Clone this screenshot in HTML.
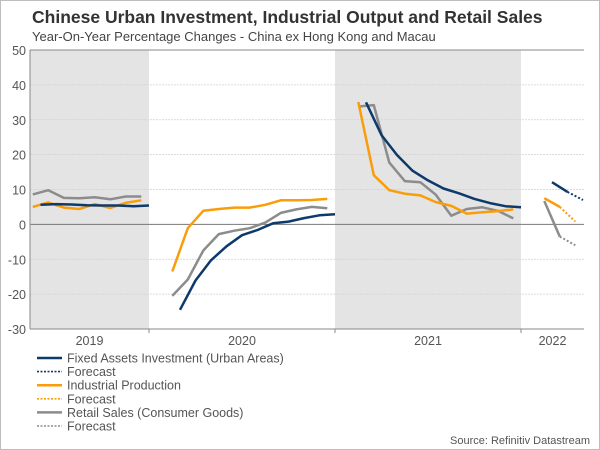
<!DOCTYPE html>
<html><head><meta charset="utf-8"><style>
body{margin:0;background:#fff;}
svg{display:block;font-family:"Liberation Sans",sans-serif;}
</style></head><body>
<svg width="600" height="450" viewBox="0 0 600 450">
<rect x="0.5" y="0.5" width="599" height="449" fill="#fff" stroke="#bdbdbd"/>
<text x="32" y="23" font-size="17.5" font-weight="bold" fill="#333">Chinese Urban Investment, Industrial Output and Retail Sales</text>
<text x="32" y="41" font-size="13" fill="#444">Year-On-Year Percentage Changes - China ex Hong Kong and Macau</text>
<g id="bands"></g>
<g id="grid"></g>
<g id="series"></g>
<g id="legend"></g>
<text x="590" y="444" font-size="11" fill="#555" text-anchor="end">Source: Refinitiv Datastream</text>
</svg>
<script>
// month index: 0 = Jan 2019
const yTicks=[50,40,30,20,10,0,-10,-20,-30];
const years=["2019","2020","2021","2022"];
const yearStarts=[4.3,12,24,36];
const faiMonths=[4,5,6,7,8,9,10,11, 13,14,15,16,17,18,19,20,21,22,23, 25,26,27,28,29,30,31,32,33,34,35];
const faiValues=[5.6,5.8,5.7,5.5,5.4,5.4,5.2,5.4, -24.5,-16.1,-10.3,-6.3,-3.1,-1.6,0.3,0.8,1.8,2.6,2.9, 35,25.6,19.9,15.4,12.6,10.3,8.9,7.3,6.1,5.2,4.9];
const faiActMonths=[37,38];const faiActValues=[12.1,9.3];
const faiFcMonths=[38,39];const faiFcValues=[9.3,7.0];
const ipMonths=[4,5,6,7,8,9,10,11, 13,14,15,16,17,18,19,20,21,22,23, 25,26,27,28,29,30,31,32,33,34,35];
const ipValues=[5.0,6.3,4.8,4.4,5.8,4.7,6.2,6.9, -13.5,-1.1,3.9,4.4,4.8,4.8,5.6,6.9,6.9,7.0,7.3, 35.1,14.1,9.8,8.8,8.3,6.4,5.3,3.1,3.5,3.8,4.3];
const ipActMonths=[37,38];const ipActValues=[7.5,5.0];
const ipFcMonths=[38,39];const ipFcValues=[5.0,0.8];
const rsMonths=[4,5,6,7,8,9,10,11, 13,14,15,16,17,18,19,20,21,22,23, 25,26,27,28,29,30,31,32,33,34,35];
const rsValues=[8.6,9.8,7.6,7.5,7.8,7.2,8.0,8.0, -20.5,-15.8,-7.5,-2.8,-1.8,-1.1,0.5,3.3,4.3,5.0,4.6, 33.8,34.2,17.7,12.4,12.1,8.5,2.5,4.4,4.9,3.9,1.7];
const rsActMonths=[37,38];const rsActValues=[6.7,-3.5];
const rsFcMonths=[38,39];const rsFcValues=[-3.5,-6.0];

const NS="http://www.w3.org/2000/svg";
const X0=30,X1=584,Y0=50,Y1=329;
function xm(m,off){return 149+(m+0.5+(off||0)-12)*15.5;}
function ys(v){return Y0+(50-v)/80*(Y1-Y0);}
function mk(tag,attrs,parent){const e=document.createElementNS(NS,tag);for(const k in attrs)e.setAttribute(k,attrs[k]);parent.appendChild(e);return e;}
const bands=document.getElementById('bands'),grid=document.getElementById('grid'),ser=document.getElementById('series'),leg=document.getElementById('legend');
// shaded years 2019 and 2021
[[X0,xm(12,-0.5)],[xm(24,-0.5),xm(36,-0.5)]].forEach((b,i)=>{
 const r=mk('rect',{x:b[0],y:Y0,width:b[1]-b[0],height:Y1-Y0,fill:'#e4e4e4'},bands);
 
 
});
yTicks.forEach(t=>{
 const y=ys(t);
 if(t!==0&&t!==50&&t!==-30){const l=mk('line',{x1:X0,x2:X1,y1:y,y2:y,stroke:'#d0d0d0','stroke-dasharray':'2,1','stroke-width':0.8},grid);
 
 }
 const tx=mk('text',{x:26,y:y+5,'font-size':12.5,fill:'#555','text-anchor':'end'},grid);tx.textContent=t;
 
 
});
const zl=mk('line',{x1:X0,x2:X1,y1:ys(0),y2:ys(0),stroke:'#777','stroke-width':1},grid);


const tl=mk('line',{x1:X0,x2:X1,y1:Y0,y2:Y0,stroke:'#888','stroke-width':1},grid);


const bl=mk('line',{x1:X0,x2:X1,y1:Y1,y2:Y1,stroke:'#888','stroke-width':1},grid);


const al=mk('line',{x1:X0,x2:X0,y1:Y0,y2:Y1,stroke:'#888','stroke-width':1},grid);


[xm(12,-0.5),xm(24,-0.5),xm(36,-0.5)].forEach(x=>{
 const l=mk('line',{x1:x,x2:x,y1:Y1,y2:Y1+4,stroke:'#888'},grid);
 
 
});
const yl=[[X0,xm(12,-0.5)],[xm(12,-0.5),xm(24,-0.5)],[xm(24,-0.5),xm(36,-0.5)],[xm(36,-0.5),X1]];
years.forEach((yr,i)=>{
 const t=mk('text',{x:(yl[i][0]+yl[i][1])/2,y:345,'font-size':12.5,fill:'#555','text-anchor':'middle'},grid);t.textContent=yr;
 
 
});
function line(ms,vs,color,off,dash,name,breakAfter){
 let d='';ms.forEach((m,i)=>{const brk=i===0||(ms[i]-ms[i-1]>1);d+=(brk?'M':'L')+xm(m,off).toFixed(1)+','+ys(vs[i]).toFixed(1);});
 const p=mk('path',{d:d,fill:'none',stroke:color,'stroke-width':dash?2:2.5,'stroke-linejoin':'round'},ser);
 if(dash)p.setAttribute('stroke-dasharray','2,2');
 
 
}
line(rsMonths,rsValues,'#8c8c8c',0,false,'retail-sales-line');
line(rsActMonths,rsActValues,'#8c8c8c',0,false,'retail-sales-2022-line');
line(rsFcMonths,rsFcValues,'#8c8c8c',0,true,'retail-sales-forecast-line');
line(ipMonths,ipValues,'#f99d0b',0,false,'industrial-production-line');
line(ipActMonths,ipActValues,'#f99d0b',0,false,'industrial-production-2022-line');
line(ipFcMonths,ipFcValues,'#f99d0b',0,true,'industrial-production-forecast-line');
line(faiMonths,faiValues,'#0d3a6b',0.5,false,'fixed-assets-investment-line');
line(faiActMonths,faiActValues,'#0d3a6b',0.5,false,'fixed-assets-investment-2022-line');
line(faiFcMonths,faiFcValues,'#0d3a6b',0.5,true,'fixed-assets-investment-forecast-line');
const legItems=[["Fixed Assets Investment (Urban Areas)",'#0d3a6b',false],["Forecast",'#0d3a6b',true],["Industrial Production",'#f99d0b',false],["Forecast",'#f99d0b',true],["Retail Sales (Consumer Goods)",'#8c8c8c',false],["Forecast",'#8c8c8c',true]];
legItems.forEach((it,i)=>{
 const y=358+i*13.6;
 const g=mk('g',{},leg);
 
 
 const l=mk('line',{x1:37,x2:62,y1:y,y2:y,stroke:it[1],'stroke-width':it[2]?1.6:2.5},g);
 if(it[2])l.setAttribute('stroke-dasharray','2,1.5');
 const t=mk('text',{x:67,y:y+4.5,'font-size':12.5,fill:'#555'},g);t.textContent=it[0];
});
</script>
</body></html>
